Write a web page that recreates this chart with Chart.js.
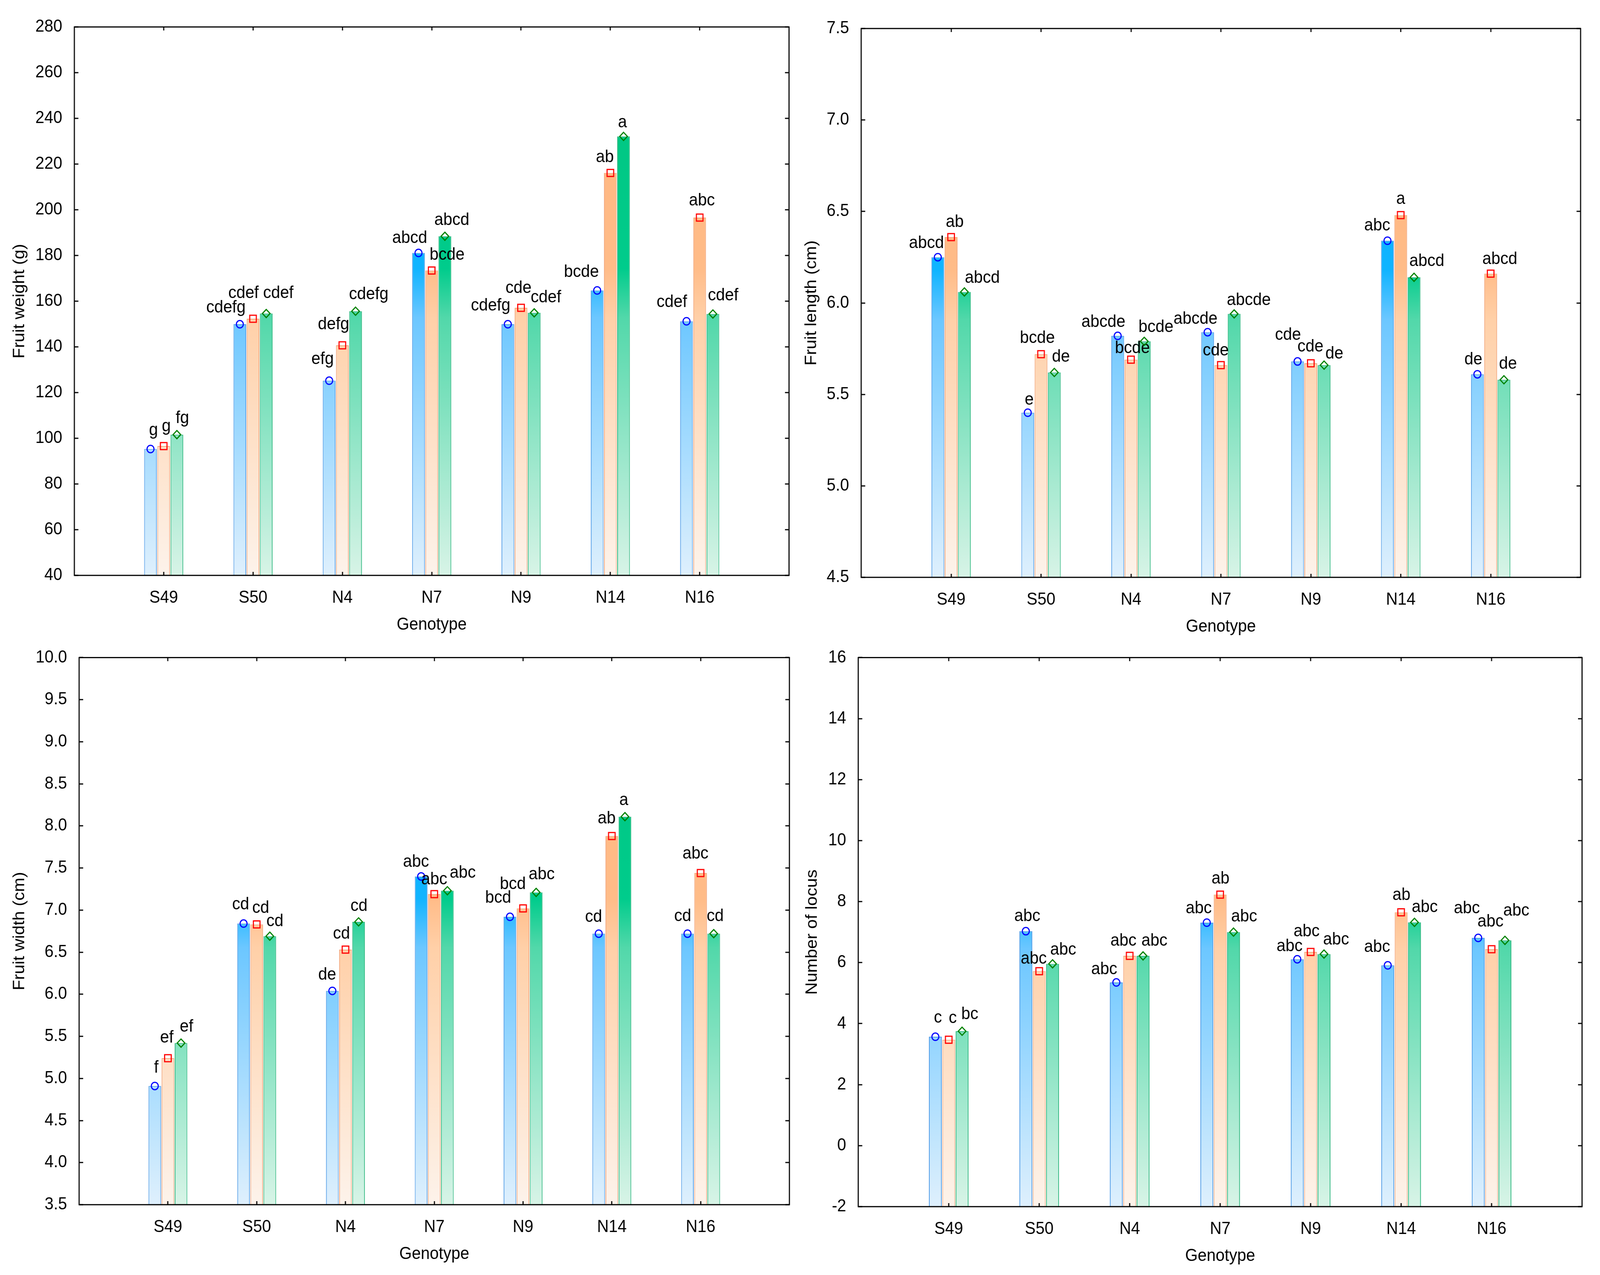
<!DOCTYPE html>
<html><head><meta charset="utf-8">
<script src="https://cdn.jsdelivr.net/npm/chart.js@4.4.1/dist/chart.umd.min.js"></script>
<style>
html,body{margin:0;padding:0;background:#fff;width:100vw;height:100vh;overflow:hidden;}
canvas{position:absolute;width:50vw;height:50vh;}
</style></head><body>
<canvas id="c1" width="2184" height="1632" style="left:0;top:0;width:50vw;height:50vh"></canvas>
<canvas id="c2" width="2184" height="1632" style="left:50vw;top:0;width:50vw;height:50vh"></canvas>
<canvas id="c3" width="2184" height="1632" style="left:0;top:50vh;width:50vw;height:50vh"></canvas>
<canvas id="c4" width="2184" height="1632" style="left:50vw;top:50vh;width:50vw;height:50vh"></canvas>
<script>
// ---------- DATA ----------
const genotypes = ['S49','S50','N4','N7','N9','N14','N16'];

const weightS1 = [95.3, 149.9, 125.2, 181.1, 149.9, 164.7, 151.2];
const weightS2 = [96.6, 152.3, 140.7, 173.4, 157.1, 216.1, 196.6];
const weightS3 = [101.6, 154.6, 155.6, 188.4, 154.9, 232.1, 154.4];
const weightL1 = ['g','cdefg','efg','abcd','cdefg','bcde','cdef'];
const weightL2 = ['g','cdef','defg','bcde','cde','ab','abc'];
const weightL3 = ['fg','cdef','cdefg','abcd','cdef','a','cdef'];

const lengthS1 = [6.25, 5.40, 5.82, 5.84, 5.68, 6.34, 5.61];
const lengthS2 = [6.36, 5.72, 5.69, 5.66, 5.67, 6.48, 6.16];
const lengthS3 = [6.06, 5.62, 5.79, 5.94, 5.66, 6.14, 5.58];
const lengthL1 = ['abcd','e','abcde','abcde','cde','abc','de'];
const lengthL2 = ['ab','bcde','bcde','cde','cde','a','abcd'];
const lengthL3 = ['abcd','de','bcde','abcde','de','abcd','de'];

const widthS1 = [4.91, 6.84, 6.04, 7.40, 6.92, 6.72, 6.72];
const widthS2 = [5.24, 6.83, 6.53, 7.19, 7.02, 7.88, 7.44];
const widthS3 = [5.42, 6.69, 6.86, 7.23, 7.21, 8.11, 6.72];
const widthL1 = ['f','cd','de','abc','bcd','cd','cd'];
const widthL2 = ['ef','cd','cd','abc','bcd','ab','abc'];
const widthL3 = ['ef','cd','cd','abc','abc','a','cd'];

const locusS1 = [3.57, 7.03, 5.35, 7.31, 6.11, 5.91, 6.81];
const locusS2 = [3.47, 5.72, 6.22, 8.23, 6.35, 7.65, 6.44];
const locusS3 = [3.75, 5.96, 6.22, 7.00, 6.28, 7.32, 6.73];
const locusL1 = ['c','abc','abc','abc','abc','abc','abc'];
const locusL2 = ['c','abc','abc','ab','abc','ab','abc'];
const locusL3 = ['bc','abc','abc','abc','abc','abc','abc'];

const axisWeight = {title:'Fruit weight (g)', min:40, max:280, step:20, dec:0};
const axisLength = {title:'Fruit length (cm)', min:4.5, max:7.5, step:0.5, dec:1};
const axisWidth  = {title:'Fruit width (cm)', min:3.5, max:10, step:0.5, dec:1};
const axisLocus  = {title:'Number of locus', min:-2, max:16, step:2, dec:0};
const xTitle = 'Genotype';

// ---------- LAYOUT / STYLE (label nudges in px: [dx, baseline above value]) ----------
const nudge1 = [
 [[8,35],[-38,30],[-18,43],[-24,26],[-47,35],[-43,35],[-40,36]],
 [[7,38],[-26,53],[-24,41],[42,28],[-7,38],[-15,28],[6,31]],
 [[15,30],[33,40],[36,31],[19,29],[32,27],[-3,23],[28,35]]];
const nudge2 = [
 [[-31,23],[4,21],[-39,23],[-33,21],[-26,55],[-28,26],[-11,25]],
 [[10,26],[-10,29],[4,17],[-14,25],[-1,30],[0,29],[25,25]],
 [[49,23],[18,27],[32,24],[40,23],[28,17],[35,29],[11,28]]];
const nudge3 = [
 [[4,34],[-8,36],[-14,29],[-14,25],[-32,36],[-14,30],[-13,32]],
 [[-3,40],[11,29],[-11,28],[0,25],[-28,50],[-14,32],[-14,37]],
 [[15,29],[14,26],[1,28],[42,33],[15,34],[-3,30],[4,32]]];
const nudge4 = [
 [[7,36],[4,26],[-33,21],[-22,24],[-21,21],[-29,34],[-31,63]],
 [[11,43],[-15,19],[-17,26],[1,28],[-11,40],[1,31],[-3,58]],
 [[21,31],[29,23],[31,26],[29,27],[33,24],[28,26],[31,63]]];

const FONT = '"Liberation Sans", Arial, sans-serif';
const GRADS = [
  [[0,'#dff0fd'],[0.47,'#6cc7ff'],[0.56,'#10b4ff'],[1,'#00b0ff']],
  [[0,'#fdf3eb'],[0.47,'#ffd0a8'],[0.56,'#ffbc88'],[1,'#ffb47c']],
  [[0,'#d8f4e7'],[0.47,'#52d8aa'],[0.56,'#00cc8c'],[1,'#00c47e']]];
const BORDERS = ['#4f9be6','#f2a57a','#2fb77f'];
const MARKS = [{t:'circle',c:'#0000ff'},{t:'square',c:'#ff0000'},{t:'diamond',c:'#008000'}];

function gradFor(i){
  return function(c){
    const ch=c.chart, a=ch.chartArea;
    if(!a) return GRADS[i][3][1];
    const g=ch.ctx.createLinearGradient(0,a.bottom,0,a.top);
    GRADS[i].forEach(s=>g.addColorStop(s[0],s[1]));
    return g;
  };
}

const framePlugin = {
  id:'frame',
  afterDatasetsDraw(chart){
    const ctx=chart.ctx, o=chart.options.plugins.frame;
    chart.data.datasets.forEach((ds,i)=>{
      const meta=chart.getDatasetMeta(i);
      meta.data.forEach((bar,j)=>{
        if(ds.data[j]==null) return;
        const x=bar.x, y=bar.y, m=MARKS[i];
        ctx.save();
        ctx.lineWidth=3; ctx.strokeStyle=m.c;
        ctx.beginPath();
        if(m.t==='circle'){ ctx.arc(x,y,9.5,0,Math.PI*2); }
        else if(m.t==='square'){ ctx.rect(x-9,y-9,18,18); }
        else { ctx.moveTo(x,y-10.5); ctx.lineTo(x+10.5,y); ctx.lineTo(x,y+10.5); ctx.lineTo(x-10.5,y); ctx.closePath(); }
        ctx.stroke();
        const lab=o.letters[i][j-1], nd=o.nudge[i][j-1];
        ctx.fillStyle='#000'; ctx.font='44px '+FONT;
        ctx.textAlign='center'; ctx.textBaseline='alphabetic';
        ctx.fillText(lab, x+nd[0], y-nd[1]);
        ctx.restore();
      });
    });
  },
  afterDraw(chart){
    const ctx=chart.ctx, a=chart.chartArea;
    const xs=chart.scales.x, ys=chart.scales.y;
    ctx.save();
    ctx.strokeStyle='#000'; ctx.lineWidth=3;
    ctx.beginPath();
    ys.ticks.forEach(t=>{
      const p=Math.round(ys.getPixelForValue(t.value));
      ctx.moveTo(a.left,p); ctx.lineTo(a.left+11,p);
      ctx.moveTo(a.right,p); ctx.lineTo(a.right-11,p);
    });
    for(let j=1;j<=genotypes.length;j++){
      const p=Math.round(xs.getPixelForValue(j));
      ctx.moveTo(p,a.bottom); ctx.lineTo(p,a.bottom-9);
      ctx.moveTo(p,a.top); ctx.lineTo(p,a.top+9);
    }
    ctx.stroke();
    ctx.strokeRect(a.left,a.top,a.right-a.left,a.bottom-a.top);
    ctx.restore();
  }
};

function pad(arr){ return [null].concat(arr).concat([null]); }

function makeChart(id, ax, s1, s2, s3, letters, nudge, L){
  const labels=[''].concat(genotypes).concat(['']);
  const series=[s1,s2,s3];
  return new Chart(document.getElementById(id), {
    type:'bar',
    data:{ labels, datasets: series.map((s,i)=>({
      data:pad(s), base:ax.min,
      backgroundColor:gradFor(i), borderColor:BORDERS[i], borderWidth:2,
      categoryPercentage:0.443, barPercentage:0.96
    }))},
    options:{
      responsive:false, devicePixelRatio:1, animation:false,
      layout:{padding:{left:0, top:L.top, right:L.right, bottom:0}},
      plugins:{legend:{display:false}, tooltip:{enabled:false},
        frame:{letters, nudge}},
      scales:{
        x:{type:'category', offset:false, grid:{display:false}, border:{display:false},
           ticks:{autoSkip:false, maxRotation:0, padding:23, color:'#000', font:{family:FONT,size:44}},
           title:{display:true, text:xTitle, color:'#000', font:{family:FONT,size:44}, padding:{top:0,bottom:L.xtb}},
           afterFit:s=>{s.height=L.xh;}},
        y:{type:'linear', min:ax.min, max:ax.max, grid:{display:false}, border:{display:false},
           ticks:{stepSize:ax.step, padding:25, color:'#000', font:{family:FONT,size:44},
                  callback:v=>Number(v).toFixed(ax.dec)},
           title:{display:true, text:ax.title, color:'#000', font:{family:FONT,size:44}, padding:{top:L.ytp,bottom:0}},
           afterFit:s=>{s.width=L.yw;}}
      }
    },
    plugins:[framePlugin]
  });
}

makeChart('c1', axisWeight, weightS1, weightS2, weightS3, [weightL1,weightL2,weightL3], nudge1,
  {top:69, right:30, yw:203, xh:159, xtb:6, ytp:27});
makeChart('c2', axisLength, lengthS1, lengthS2, lengthS3, [lengthL1,lengthL2,lengthL3], nudge2,
  {top:73, right:53, yw:167, xh:154, xtb:1, ytp:5});
makeChart('c3', axisWidth, widthS1, widthS2, widthS3, [widthL1,widthL2,widthL3], nudge3,
  {top:46, right:29, yw:216, xh:180, xtb:27, ytp:27});
makeChart('c4', axisLocus, locusS1, locusS2, locusS3, [locusL1,locusL2,locusL3], nudge4,
  {top:50, right:49, yw:159, xh:175, xtb:22, ytp:7});
</script>
</body></html>
